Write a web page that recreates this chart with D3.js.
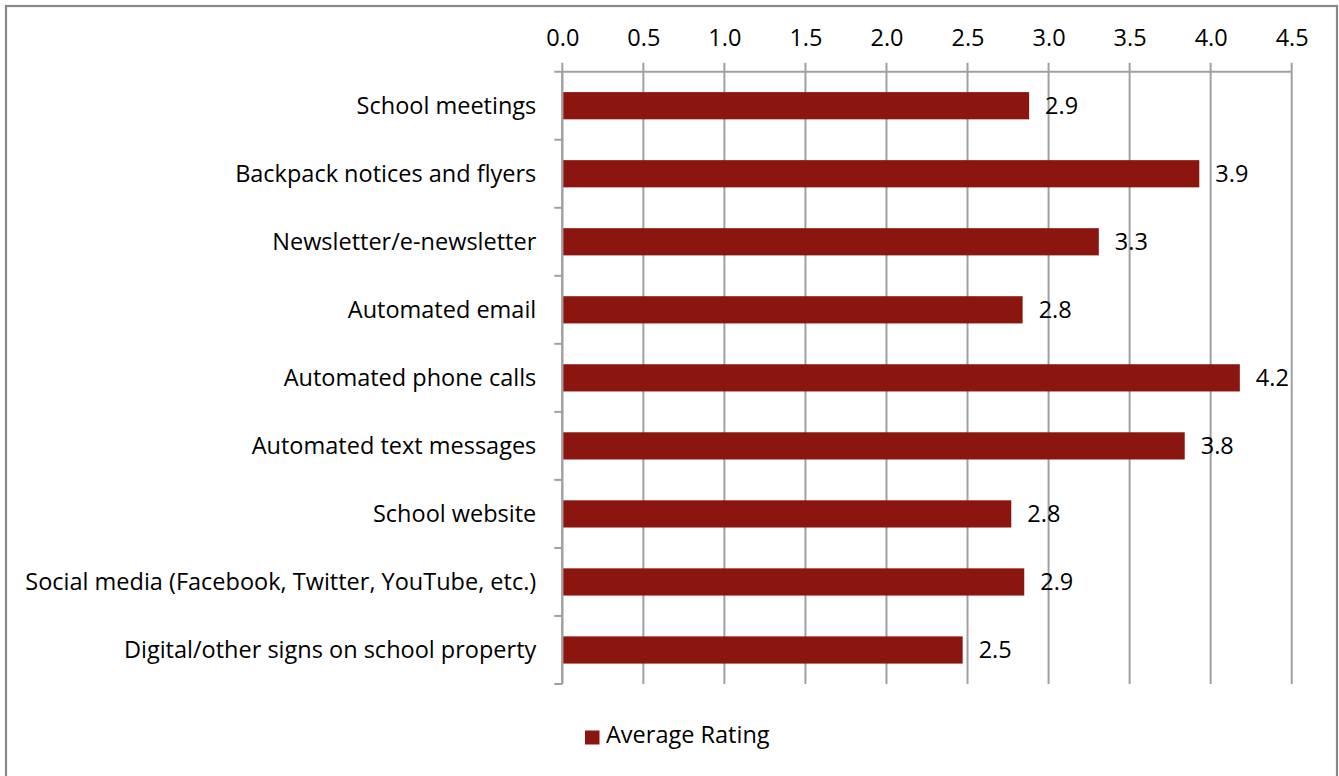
<!DOCTYPE html>
<html><head><meta charset="utf-8">
<script src="https://cdn.jsdelivr.net/npm/d3@7"></script>
<style>
html,body{margin:0;padding:0;background:#fff;}
text{font-family:"Open Sans",sans-serif;fill:#000;}
</style></head>
<body>
<svg id="chart" width="1339" height="776"></svg>
<script>
const categories = ["School meetings","Backpack notices and flyers","Newsletter/e-newsletter","Automated email","Automated phone calls","Automated text messages","School website","Social media (Facebook, Twitter, YouTube, etc.)","Digital/other signs on school property"];
const values = [2.88, 3.93, 3.31, 2.84, 4.18, 3.84, 2.77, 2.85, 2.47];
const tickValues = [0,0.5,1,1.5,2,2.5,3,3.5,4,4.5];
const seriesName = "Average Rating";

const svg = d3.select("#chart");
const W = 1339, H = 776;
const m = {left:562.3, right:W-1291.7, top:71.7, bottom:H-684};
const barColor = "#8b1610";
const gridColor = "#a0a0a0";
const FONT = "'Open Sans', sans-serif";
const FS = 23.5;

svg.append("rect").attr("x",6).attr("y",6).attr("width",1331).attr("height",H)
  .attr("fill","#fff").attr("stroke","#888").attr("stroke-width",2.2);

const x = d3.scaleLinear().domain([0,4.5]).range([m.left, W-m.right]);
const y = d3.scaleBand().domain(categories).range([m.top, H-m.bottom]).paddingInner(0.6).paddingOuter(0.3);

// gridlines
svg.append("g").selectAll("line").data(tickValues).join("line")
  .attr("x1",d=>x(d)).attr("x2",d=>x(d))
  .attr("y1",m.top-9).attr("y2",H-m.bottom)
  .attr("stroke",gridColor).attr("stroke-width",2);

// top axis
const xAxis = d3.axisTop(x).tickValues(tickValues).tickFormat(d3.format(".1f")).tickSize(0).tickPadding(25.7);
const ax = svg.append("g").attr("transform",`translate(0,${m.top})`).call(xAxis);
ax.attr("font-size",null).attr("font-family",null);
ax.select(".domain").attr("stroke",gridColor).attr("stroke-width",2).attr("d",`M${m.left-8},0H${W-m.right}`);
ax.selectAll("text").attr("font-size",FS).style("font-family",FONT).attr("fill","#000");

// left axis
const bandEdges = d3.range(categories.length+1).map(i => m.top + i*((H-m.bottom-m.top)/categories.length));
svg.append("line").attr("x1",m.left).attr("x2",m.left).attr("y1",m.top).attr("y2",H-m.bottom)
  .attr("stroke",gridColor).attr("stroke-width",2);
svg.selectAll("line.ytick").data(bandEdges.slice(1)).join("line")
  .attr("class","ytick")
  .attr("x1",m.left-8).attr("x2",m.left).attr("y1",d=>d).attr("y2",d=>d)
  .attr("stroke",gridColor).attr("stroke-width",2);

const yAxis = d3.axisLeft(y).tickSize(0).tickPadding(26);
const ay = svg.append("g").attr("transform",`translate(${m.left},0)`).call(yAxis);
ay.attr("font-size",null).attr("font-family",null);
ay.select(".domain").remove();
ay.selectAll("text").attr("font-size",FS).attr("dy","0.35em").style("font-family",FONT).attr("fill","#000");

// bars
svg.selectAll("rect.bar").data(values).join("rect")
  .attr("class","bar")
  .attr("x",x(0)+1).attr("y",(d,i)=>y(categories[i]))
  .attr("width",d=>x(d)-x(0)-1).attr("height",y.bandwidth())
  .attr("fill",barColor);

// value labels
svg.selectAll("text.val").data(values).join("text")
  .attr("class","val")
  .attr("x",d=>x(d)+16).attr("y",(d,i)=>y(categories[i])+y.bandwidth()/2)
  .attr("dy","0.35em").attr("font-size",FS)
  .text(d=>d3.format(".1f")(d));

// legend
const lg = svg.append("g").attr("transform","translate(585,730.5)");
lg.append("rect").attr("width",14.5).attr("height",14).attr("fill",barColor);
lg.append("text").attr("x",21).attr("y",12.5).attr("font-size",FS).text(seriesName);
</script>
</body></html>
